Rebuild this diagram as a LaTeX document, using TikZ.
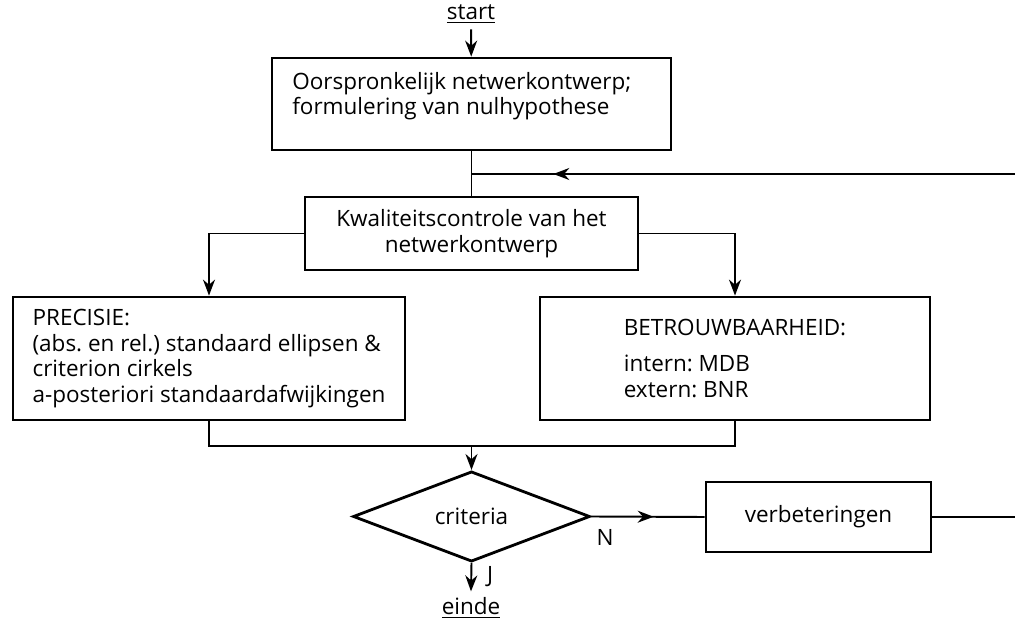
\documentclass[tikz,border=0pt]{standalone}
\usepackage{fontspec}
\setmainfont{Open Sans}
\usepackage{tikz}
\usetikzlibrary{arrows.meta,calc,positioning,shapes.geometric,decorations.markings}

\tikzset{
  box/.style={draw,line width=1.6pt,inner sep=0pt},
  flow/.style={line width=1.1pt},
  midarrow/.style={postaction={decorate},decoration={markings,mark=at position #1 with {\arrow{Stealth[length=3.2mm,width=2.4mm]}}}},
}

\begin{document}
\begin{tikzpicture}[x=0.02cm,y=-0.02cm,>={Stealth[length=3.2mm,width=2.4mm]},font=\fontsize{12.8}{14.5}\selectfont\frenchspacing]
  \useasboundingbox (0,0) rectangle (1015,631);
  \node (start) at (471,14) {\underline{start}};
  \node[box,minimum width=7.98cm,minimum height=1.84cm] (ontwerp) at (471.5,104) {};
  \node[anchor=north west,align=left,inner sep=0pt] (ontwerptxt) at (292,72) {Oorspronkelijk netwerkontwerp;\\formulering van nulhypothese};
  \node[box,minimum width=6.66cm,minimum height=1.46cm,align=center] (kwaliteit) at (471.5,233.5) {Kwaliteitscontrole van het\\netwerkontwerp};
  \node[box,minimum width=7.84cm,minimum height=2.46cm,align=left] (precisie) at (209,358.5) {PRECISIE:\\(abs. en rel.) standaard ellipsen \&\\criterion cirkels\\a-posteriori standaardafwijkingen};
  \node[box,minimum width=7.8cm,minimum height=2.46cm,align=left] (betrouw) at (735,358.5) {BETROUWBAARHEID:\\[6pt]intern: MDB\\extern: BNR};
  \node[box,diamond,minimum width=4.74cm,minimum height=1.74cm] (criteria) at (471.5,516.5) {criteria};
  \node[box,minimum width=4.5cm,minimum height=1.4cm] (verbeter) at (818.5,517) {verbeteringen};
  \node (nee) at (605,537) {N};
  \node (ja) at (490,577) {J};
  \node (einde) at (471,608) {\underline{einde}};
  % verbindingen
  \coordinate (terug) at (471.5,174);
  \coordinate (samen) at (471.5,446);
  \coordinate (rb) at (1017,517);
  \coordinate (rt) at (1017,174);
  \draw[flow,->] (start) -- (ontwerp);
  \draw[flow] (ontwerp) -- (kwaliteit);
  \draw[flow,->] (kwaliteit.west) -| (precisie.north);
  \draw[flow,->] (kwaliteit.east) -| (betrouw.north);
  \draw[flow] (precisie.south) |- (samen) -| (betrouw.south);
  \draw[flow,->] (samen) -- (criteria.north);
  \draw[flow,midarrow=0.55] (criteria.east) -- (verbeter.west);
  \draw[flow] (verbeter.east) -- (rb) -- (rt);
  \draw[flow,midarrow=0.85] (rt) -- (terug);
  \draw[flow,->] (criteria.south) -- (einde.north);
\end{tikzpicture}
\end{document}
